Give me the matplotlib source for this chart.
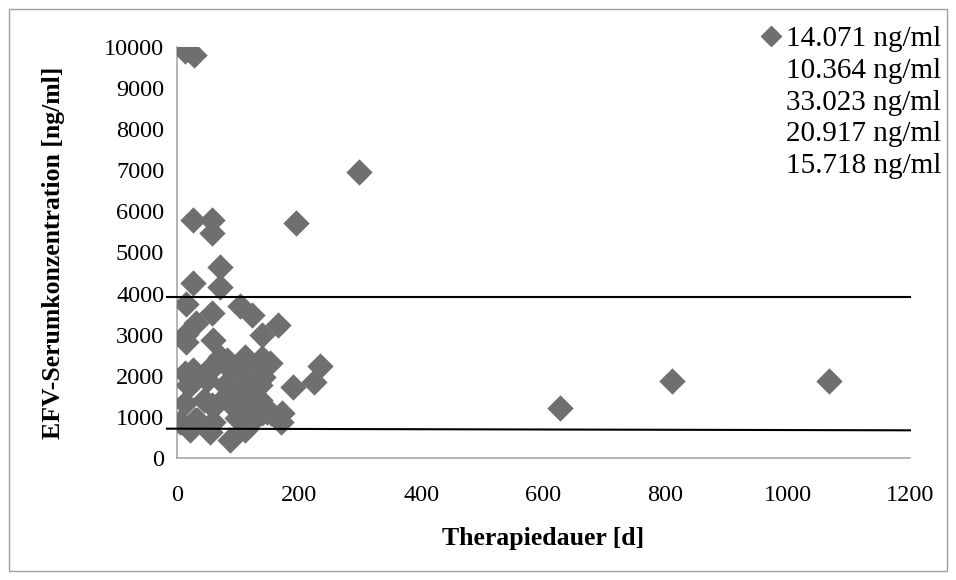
import matplotlib
matplotlib.use('Agg')
import matplotlib.pyplot as plt
from matplotlib.lines import Line2D
from matplotlib.patches import Rectangle

# ---- data ----
days = [13, 28, 298, 196, 27, 57, 57, 71, 27, 71,
        15, 103, 57, 124, 32, 166, 15, 15, 59, 140,
        235, 225, 190, 172, 170, 87,
        628, 810, 1068,
        27, 54, 84, 109, 136,
        19, 49, 79, 104, 136,
        14, 44, 60, 87, 109, 136,
        5, 33, 60, 98, 125, 147,
        22, 55, 112,
        109, 153, 142, 109, 90, 98, 126, 139, 112,
        71, 82, 112, 139, 14, 55, 22, 120, 82, 101, 125, 57, 136, 104, 155, 30, 115, 112]
conc = [9900, 9790, 6960, 5710, 5790, 5790, 5470, 4650, 4270, 4160,
        3740, 3700, 3530, 3480, 3280, 3230, 3010, 2820, 2880, 3000,
        2240, 1860, 1740, 1110, 890, 440,
        1230, 1890, 1880,
        2145, 2185, 2226, 2267, 2185,
        1781, 1903, 1781, 1660, 1781,
        1336, 1417, 1255, 1336, 1214, 1174,
        889, 930, 889, 970, 930, 1133,
        690, 650, 690,
        2389, 2308, 1984, 1984, 2227, 1579, 1701, 1093, 1174,
        2469, 2388, 2469, 2429, 2064, 2145, 1781, 1741, 1539, 1579, 1498, 1296, 1417, 1174, 1093, 930, 890, 728]

upper_x = [-16, 1200]
upper_y = [3930, 3930]
lower_x = [-16, 1200]
lower_y = [720, 680]

x_ticks = [0, 200, 400, 600, 800, 1000, 1200]
y_ticks = [0, 1000, 2000, 3000, 4000, 5000, 6000, 7000, 8000, 9000, 10000]
legend_labels = ['14.071 ng/ml', '10.364 ng/ml', '33.023 ng/ml', '20.917 ng/ml', '15.718 ng/ml']
x_label = 'Therapiedauer [d]'
y_label = 'EFV-Serumkonzentration [ng/ml]'

plt.rcParams['font.family'] = ['Liberation Serif', 'DejaVu Serif']

W, H = 956, 580
fig = plt.figure(figsize=(W / 100, H / 100), dpi=100)
fig.patch.set_facecolor('white')
fig.patches.append(Rectangle((9 / W, 9 / H), 938 / W, 562 / H, transform=fig.transFigure,
                             fill=False, edgecolor='#a0a0a0', linewidth=1.0))

left, right, top, bottom = 176.7, 910, 46.7, 458.3
ax = fig.add_axes([left / W, 1 - bottom / H, (right - left) / W, (bottom - top) / H])

marker_color = '#6f6f6f'
sc = ax.scatter(days, conc, marker='D', s=180, color=marker_color, linewidths=0, zorder=3)
ax.plot(upper_x, upper_y, color='black', linewidth=1.5, clip_on=False, zorder=4)
ax.plot(lower_x, lower_y, color='black', linewidth=1.5, clip_on=False, zorder=4)

ax.set_xlim(0, 1200)
ax.set_ylim(0, 10000)
ax.set_xticks(x_ticks)
ax.set_yticks(y_ticks)
ax.set_xticklabels([str(v) for v in x_ticks])
ax.set_yticklabels([str(v) for v in y_ticks])
ax.tick_params(axis='both', length=0, labelsize=17.5, colors='black')
ax.tick_params(axis='x', pad=19)
ax.tick_params(axis='y', pad=9)

for s in ['top', 'right']:
    ax.spines[s].set_visible(False)
for s in ['left', 'bottom']:
    ax.spines[s].set_color('#a0a0a0')
    ax.spines[s].set_linewidth(1.1)

ax.set_xlabel(x_label, fontsize=18.5, fontweight='bold', labelpad=15)
ax.set_ylabel(y_label, fontsize=18.5, fontweight='bold', labelpad=28)

handles = [Line2D([], [], marker='D', linestyle='none', color=marker_color, markersize=10)]
handles += [Line2D([], [], linestyle='none') for _ in legend_labels[1:]]
ax.legend(handles, legend_labels, loc='upper right', bbox_to_anchor=(941 / W, 1 - 26 / H),
          bbox_transform=fig.transFigure, frameon=False, fontsize=21, handlelength=0.5,
          handletextpad=0.25, labelspacing=0.18, borderaxespad=0, borderpad=0)

fig.savefig('out.png', dpi=100, facecolor='white')
